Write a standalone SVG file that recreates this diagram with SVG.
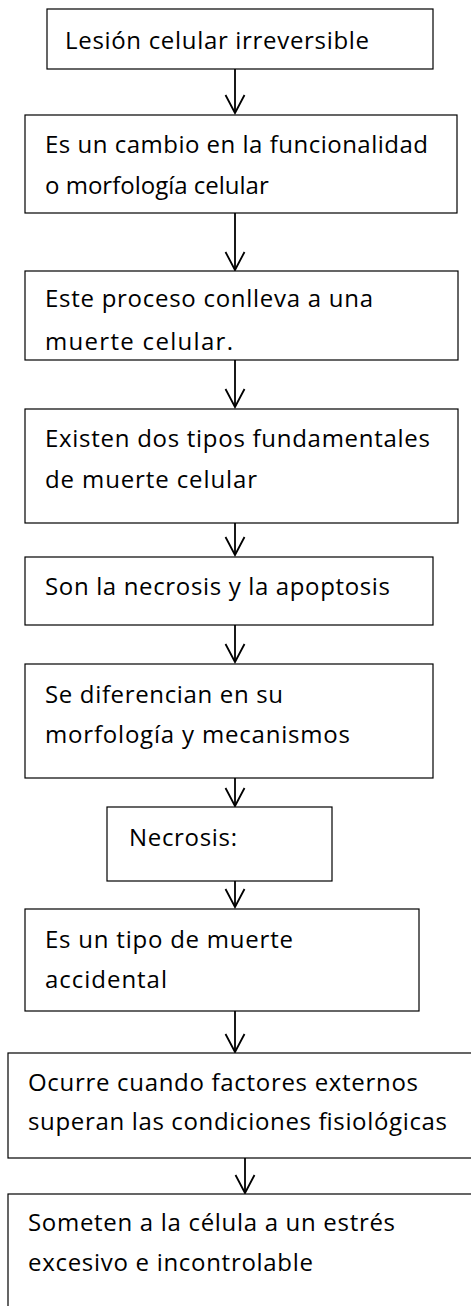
<svg xmlns="http://www.w3.org/2000/svg" width="471" height="1306" viewBox="0 0 471 1306">
<style>
.box{fill:#fff;stroke:#000;stroke-width:1.2}
.t{font-family:"Open Sans","Noto Sans","Liberation Sans",sans-serif;font-size:24px;fill:#000}
.c{stroke:#000;stroke-width:1.8;fill:none}
</style>
<defs>
<marker id="ah" viewBox="-20 -11 22 22" markerWidth="22" markerHeight="22" refX="0" refY="0" orient="auto" markerUnits="userSpaceOnUse" overflow="visible">
<polyline points="-18,-9.5 0,0 -18,9.5" fill="none" stroke="#000" stroke-width="1.8"/>
</marker>
</defs>
<rect width="471" height="1306" fill="#fff"/>
<g id="connectors">
<line class="c" x1="235" y1="69" x2="235" y2="113" marker-end="url(#ah)"/>
<line class="c" x1="235" y1="213" x2="235" y2="270" marker-end="url(#ah)"/>
<line class="c" x1="235" y1="360" x2="235" y2="407" marker-end="url(#ah)"/>
<line class="c" x1="235" y1="523" x2="235" y2="555" marker-end="url(#ah)"/>
<line class="c" x1="235" y1="625" x2="235" y2="662" marker-end="url(#ah)"/>
<line class="c" x1="235" y1="778" x2="235" y2="806" marker-end="url(#ah)"/>
<line class="c" x1="235" y1="881" x2="235" y2="907" marker-end="url(#ah)"/>
<line class="c" x1="235" y1="1011" x2="235" y2="1052" marker-end="url(#ah)"/>
<line class="c" x1="245" y1="1158" x2="245" y2="1193" marker-end="url(#ah)"/>
</g>
<g id="n1">
<rect class="box" x="47" y="9" width="386" height="60"/>
<text class="t" x="65" y="49" textLength="304">Lesión celular irreversible</text>
</g>
<g id="n2">
<rect class="box" x="25" y="115" width="432" height="98"/>
<text class="t" x="45" y="153" textLength="383">Es un cambio en la funcionalidad</text>
<text class="t" x="45" y="194">o morfología celular</text>
</g>
<g id="n3">
<rect class="box" x="25" y="271" width="433" height="89"/>
<text class="t" x="45" y="307" textLength="328">Este proceso conlleva a una</text>
<text class="t" x="45" y="350" textLength="188">muerte celular.</text>
</g>
<g id="n4">
<rect class="box" x="25" y="409" width="433" height="114"/>
<text class="t" x="45" y="447" textLength="385">Existen dos tipos fundamentales</text>
<text class="t" x="45" y="488" textLength="212">de muerte celular</text>
</g>
<g id="n5">
<rect class="box" x="25" y="557" width="408" height="68"/>
<text class="t" x="45" y="595" textLength="345">Son la necrosis y la apoptosis</text>
</g>
<g id="n6">
<rect class="box" x="25" y="664" width="408" height="114"/>
<text class="t" x="45" y="703" textLength="238">Se diferencian en su</text>
<text class="t" x="45" y="743" textLength="305">morfología y mecanismos</text>
</g>
<g id="n7">
<rect class="box" x="107" y="807" width="225" height="74"/>
<text class="t" x="129" y="846" textLength="108">Necrosis:</text>
</g>
<g id="n8">
<rect class="box" x="25" y="909" width="394" height="102"/>
<text class="t" x="45" y="948" textLength="248">Es un tipo de muerte</text>
<text class="t" x="45" y="988" textLength="122">accidental</text>
</g>
<g id="n9">
<rect class="box" x="8" y="1053" width="480" height="105"/>
<text class="t" x="28" y="1091" textLength="390">Ocurre cuando factores externos</text>
<text class="t" x="28" y="1130" textLength="419">superan las condiciones fisiológicas</text>
</g>
<g id="n10">
<rect class="box" x="8" y="1194" width="480" height="130"/>
<text class="t" x="28" y="1231" textLength="367">Someten a la célula a un estrés</text>
<text class="t" x="28" y="1271" textLength="285">excesivo e incontrolable</text>
</g>
</svg>
